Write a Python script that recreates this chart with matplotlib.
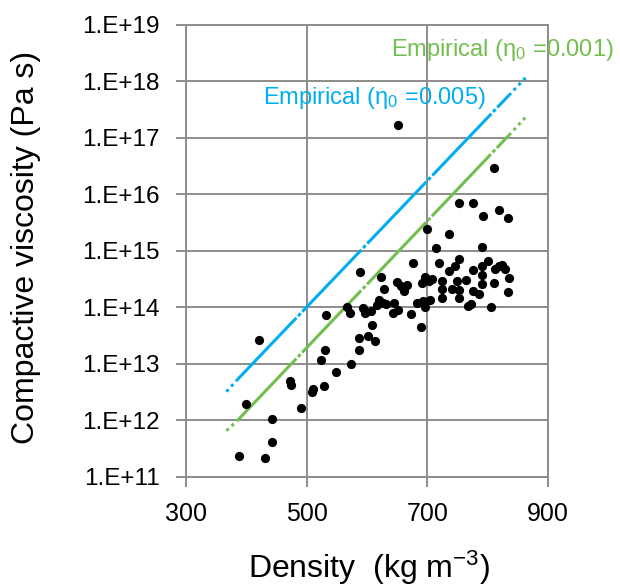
import numpy as np
import matplotlib
matplotlib.use("Agg")
import matplotlib.pyplot as plt

plt.rcParams['font.family'] = ['Liberation Sans', 'DejaVu Sans']
plt.rcParams['mathtext.default'] = 'regular'

# measured points (density kg/m3, log10 viscosity Pa s)
density = [387, 431, 442, 443, 399, 421, 473, 474, 490, 508, 510, 529, 524, 531, 532,
           548, 574, 587, 587, 601, 614, 609, 589, 567, 571, 594, 597, 606, 616, 620,
           627, 631, 623, 628, 645, 643, 652, 649, 656, 661, 667, 676, 673, 689, 683,
           692, 696, 704, 691, 696, 702, 708, 700, 714, 720, 725, 725, 725, 735, 735,
           740, 746, 749, 752, 752, 752, 764, 767, 773, 775, 775, 786, 790, 790, 791,
           791, 801, 805, 811, 812, 818, 824, 829, 834, 835, 753, 775, 792, 818, 833,
           652, 811]
log_visc = [11.37, 11.33, 11.61, 12.02, 12.28, 13.41, 12.69, 12.62, 12.21, 12.49, 12.56,
            12.60, 13.06, 13.24, 13.86, 12.85, 13.00, 13.25, 13.45, 13.49, 13.40, 13.68,
            14.62, 14.00, 13.90, 13.99, 13.90, 13.93, 14.04, 14.13, 14.08, 14.05, 14.54,
            14.32, 14.08, 13.89, 13.95, 14.45, 14.37, 14.29, 14.40, 14.79, 13.87, 13.65,
            14.07, 14.10, 14.01, 14.12, 14.42, 14.53, 14.46, 14.50, 15.38, 15.05, 14.79,
            14.47, 14.33, 14.17, 15.29, 14.64, 14.33, 14.72, 14.46, 14.86, 14.30, 14.16,
            14.48, 14.02, 14.06, 14.66, 14.29, 14.23, 15.07, 14.57, 14.72, 14.41, 14.82,
            14.00, 14.43, 14.67, 14.72, 14.75, 14.68, 14.26, 14.51, 15.84, 15.84, 15.62,
            15.72, 15.57, 17.23, 16.46]
viscosity = 10.0 ** np.array(log_visc)

# empirical lines: dotted start, solid part, dotted end
emp_density = [367, 385, 835, 866]
emp_005 = [3.2e12, 5.2e12, 5.6e17, 1.25e18]
emp_001 = [6.5e11, 9.8e11, 1.1e17, 2.5e17]

yticks = [1e11, 1e12, 1e13, 1e14, 1e15, 1e16, 1e17, 1e18, 1e19]
ytick_labels = ['1.E+11', '1.E+12', '1.E+13', '1.E+14', '1.E+15', '1.E+16',
                '1.E+17', '1.E+18', '1.E+19']
xticks = [300, 500, 700, 900]

blue = '#00AEEF'
green = '#72BF4E'
grey = '#8C8C8C'

fig = plt.figure(figsize=(6.2, 5.87), dpi=100)
ax = fig.add_axes([0.300, 0.188, 0.584, 0.770])

ax.set_yscale('log')
ax.set_xlim(300, 900)
ax.set_ylim(1e11, 1e19)

for c, vals in [(blue, emp_005), (green, emp_001)]:
    ax.plot(emp_density[0:2], vals[0:2], color=c, lw=2.2, ls=(0, (1, 1.3)))
    ax.plot(emp_density[1:3], vals[1:3], color=c, lw=2.2,
            ls=(0, (28, 0.8, 1.2, 0.8)))
    ax.plot(emp_density[2:4], vals[2:4], color=c, lw=2.2, ls=(0, (1, 1.3)))

ax.scatter(density, viscosity, s=44, color='black', zorder=3, linewidths=0)

ax.text(639, 10 ** 18.55, 'Empirical (η$_0$ =0.001)', color=green, fontsize=17,
        va='center', ha='left', clip_on=False)
ax.text(427, 10 ** 17.70, 'Empirical (η$_0$ =0.005)', color=blue, fontsize=17,
        va='center', ha='left')

ax.set_yticks(yticks)
ax.set_yticklabels(ytick_labels)
ax.yaxis.set_minor_locator(matplotlib.ticker.NullLocator())
ax.set_xticks(xticks)

ax.grid(True, color=grey, lw=1.4)
for s in ax.spines.values():
    s.set_color(grey)
    s.set_linewidth(1.4)
ax.tick_params(axis='both', length=7, width=1.4, color=grey, labelcolor='black')
ax.tick_params(axis='y', labelsize=17.5, pad=12)
ax.tick_params(axis='x', labelsize=18, pad=11)
ax.set_axisbelow(True)

ax.set_xlabel('Density  (kg m$^{-3}$)', fontsize=23, va='baseline')
ax.xaxis.set_label_coords(0.505, -0.225)
ax.set_ylabel('Compactive viscosity (Pa s)', fontsize=23)
ax.yaxis.set_label_coords(-0.40, 0.508)

fig.savefig('out.png', dpi=100)
